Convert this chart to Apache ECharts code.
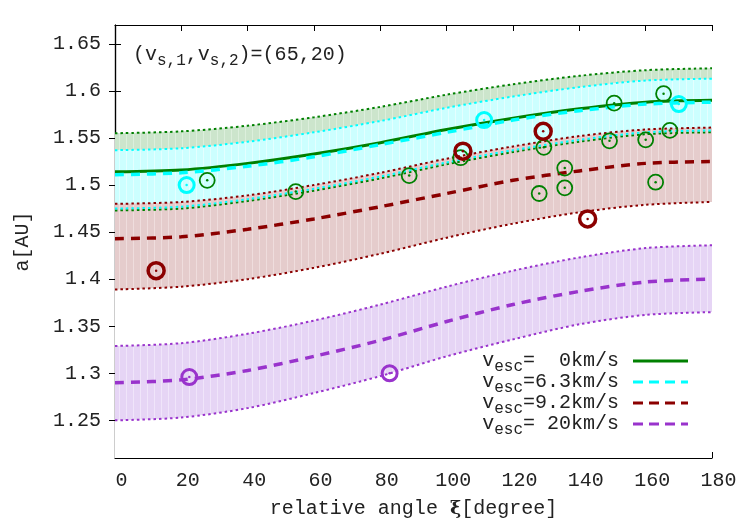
<!DOCTYPE html>
<html>
<head>
<meta charset="utf-8">
<script src="https://cdn.jsdelivr.net/npm/echarts@6/dist/echarts.min.js"></script>
<style>
  html, body { margin: 0; padding: 0; background: #fff; }
  #main { width: 750px; height: 525px; }
</style>
</head>
<body>
<div id="main"></div>
<script>
// 相对角度 (degree)
var xi = [0, 20, 40, 60, 80, 100, 120, 140, 160, 180];

// v_esc = 0 km/s
var g_mid = [1.514, 1.516, 1.523, 1.533, 1.545, 1.559, 1.571, 1.581, 1.588, 1.590];
var g_up  = [1.555, 1.557, 1.563, 1.572, 1.583, 1.596, 1.607, 1.616, 1.622, 1.624];
var g_lo  = [1.473, 1.475, 1.483, 1.494, 1.507, 1.522, 1.535, 1.546, 1.554, 1.556];
// v_esc = 6.3 km/s
var c_mid = [1.511, 1.513, 1.520, 1.530, 1.543, 1.556, 1.569, 1.579, 1.586, 1.588];
var c_up  = [1.537, 1.539, 1.546, 1.556, 1.568, 1.582, 1.594, 1.604, 1.611, 1.613];
var c_lo  = [1.475, 1.477, 1.485, 1.496, 1.509, 1.524, 1.537, 1.548, 1.556, 1.558];
// v_esc = 9.2 km/s
var r_mid = [1.443, 1.445, 1.453, 1.464, 1.477, 1.491, 1.505, 1.515, 1.523, 1.525];
var r_up  = [1.480, 1.482, 1.489, 1.500, 1.513, 1.528, 1.541, 1.552, 1.559, 1.561];
var r_lo  = [1.389, 1.392, 1.400, 1.412, 1.427, 1.444, 1.459, 1.471, 1.479, 1.482];
// v_esc = 20 km/s
var p_mid = [1.290, 1.293, 1.303, 1.318, 1.335, 1.355, 1.373, 1.387, 1.397, 1.400];
var p_up  = [1.329, 1.332, 1.342, 1.356, 1.373, 1.392, 1.409, 1.423, 1.433, 1.436];
var p_lo  = [1.250, 1.253, 1.263, 1.279, 1.297, 1.318, 1.336, 1.352, 1.362, 1.365];

// observed points [xi, a]
var pts_green = [[27.8, 1.505], [54.5, 1.493], [88.7, 1.510], [104.2, 1.529], [129.3, 1.540],
  [127.9, 1.491], [135.6, 1.518], [135.6, 1.497], [150.5, 1.587], [149.1, 1.547],
  [160.0, 1.548], [165.4, 1.597], [167.3, 1.558], [163.0, 1.503]];
var pts_cyan = [[21.6, 1.500], [111.3, 1.569], [170.0, 1.586]];
var pts_red = [[12.4, 1.409], [104.9, 1.536], [129.1, 1.557], [142.5, 1.464]];
var pts_purple = [[22.4, 1.296], [82.8, 1.300]];

var yTicks = [1.25, 1.3, 1.35, 1.4, 1.45, 1.5, 1.55, 1.6, 1.65];

var FONT = 'Liberation Mono';
var TXT = '#222';
var GREEN = '#008000', CYAN = '#00ffff', RED = '#8b0000', PURPLE = '#9933cc';

function pairs(arr) { return xi.map(function (x, i) { return [x, arr[i]]; }); }

// gnuplot 风格的竖条纹填充
function stripes(base, light) {
  var cv = document.createElement('canvas');
  cv.width = 7; cv.height = 8;
  var ctx = cv.getContext('2d');
  ctx.fillStyle = base; ctx.fillRect(0, 0, 7, 8);
  ctx.fillStyle = light; ctx.fillRect(0, 0, 1, 8);
  return { image: cv, repeat: 'repeat' };
}

// 带状区域: 上沿向下填色, 下沿向下填白色
function band(key, up, lo, fill) {
  return [
    { name: key + '_top', type: 'line', data: pairs(up), smooth: 0.3, symbol: 'none',
      lineStyle: { width: 0, opacity: 0 }, areaStyle: { color: fill, opacity: 1, origin: 'start' },
      silent: true, z: 1 },
    { name: key + '_bot', type: 'line', data: pairs(lo), smooth: 0.3, symbol: 'none',
      lineStyle: { width: 0, opacity: 0 }, areaStyle: { color: '#fff', opacity: 1, origin: 'start' },
      silent: true, z: 1 }
  ];
}

function dotted(name, arr, color) {
  return { name: name, type: 'line', data: pairs(arr), smooth: 0.3, symbol: 'none', z: 2,
    lineStyle: { color: color, width: 2, type: [2.5, 3] }, silent: true };
}

function ring(name, data, color, size, bw) {
  return [
    { name: name, type: 'scatter', data: data, symbol: 'circle', symbolSize: size, z: 5,
      itemStyle: { color: 'rgba(0,0,0,0)', borderColor: color, borderWidth: bw, opacity: 1 } },
    { name: name + '_dot', type: 'scatter', data: data, symbol: 'circle', symbolSize: 2.5, z: 5,
      itemStyle: { color: color, opacity: 1 } }
  ];
}

var legendText = {
  v0:  '{v|v}{s|esc}{v|=  0km/s}',
  v63: '{v|v}{s|esc}{v|=6.3km/s}',
  v92: '{v|v}{s|esc}{v|=9.2km/s}',
  v20: '{v|v}{s|esc}{v|= 20km/s}'
};
var solidIcon = 'path://M0,0H55V3H0Z';
var dashIcon = 'path://M0,0H10V3H0Z M16,0H26V3H16Z M32,0H42V3H32Z M48,0H55V3H48Z';

var series = [].concat(
  band('gb', g_up, g_lo, stripes('#cce5cc', '#dcefdc')),
  band('cb', c_up, c_lo, stripes('#ccffff', '#e4ffff')),
  band('rb', r_up, r_lo, stripes('#e5cccc', '#efdddd')),
  band('pb', p_up, p_lo, stripes('#e6d5f5', '#f0e5fa')),
  [
    dotted('g_up', g_up, GREEN), dotted('g_lo', g_lo, GREEN),
    dotted('c_up', c_up, CYAN), dotted('c_lo', c_lo, CYAN),
    dotted('r_up', r_up, RED), dotted('r_lo', r_lo, RED),
    dotted('p_up', p_up, PURPLE), dotted('p_lo', p_lo, PURPLE),
    { name: 'v0', type: 'line', data: pairs(g_mid), smooth: 0.3, symbol: 'none', z: 3,
      lineStyle: { color: GREEN, width: 3 }, itemStyle: { color: GREEN } },
    { name: 'v63', type: 'line', data: pairs(c_mid), smooth: 0.3, symbol: 'none', z: 3,
      lineStyle: { color: CYAN, width: 3.5, type: [9, 7] }, itemStyle: { color: CYAN } },
    { name: 'v92', type: 'line', data: pairs(r_mid), smooth: 0.3, symbol: 'none', z: 3,
      lineStyle: { color: RED, width: 3.5, type: [9, 7] }, itemStyle: { color: RED } },
    { name: 'v20', type: 'line', data: pairs(p_mid), smooth: 0.3, symbol: 'none', z: 3,
      lineStyle: { color: PURPLE, width: 3.5, type: [9, 7] }, itemStyle: { color: PURPLE } }
  ],
  ring('pg', pts_green, GREEN, 15, 1.8),
  ring('pc', pts_cyan, CYAN, 15, 3),
  ring('pr', pts_red, RED, 16, 3.5),
  ring('pp', pts_purple, PURPLE, 15, 3)
);

var myChart = echarts.init(document.getElementById('main'), null, { renderer: 'canvas' });

var option = {
  animation: false,
  backgroundColor: '#fff',
  title: {
    text: '{m|(v}{s|s,1}{m|,v}{s|s,2}{m|)=(65,20)}',
    left: 128, top: 36,
    textStyle: {
      fontWeight: 'normal',
      rich: {
        m: { fontFamily: FONT, fontSize: 20, fontWeight: 'normal', color: TXT },
        s: { fontFamily: FONT, fontSize: 16, fontWeight: 'normal', color: TXT, padding: [12, 0, 0, 0] }
      }
    }
  },
  legend: {
    data: [
      { name: 'v0', icon: solidIcon },
      { name: 'v63', icon: dashIcon },
      { name: 'v92', icon: dashIcon },
      { name: 'v20', icon: dashIcon }
    ],
    orient: 'vertical',
    right: 57, top: 346,
    align: 'right',
    itemWidth: 55, itemHeight: 3,
    itemGap: -3,
    selectedMode: false,
    formatter: function (name) { return legendText[name]; },
    textStyle: {
      padding: [0, 9, 0, 0],
      rich: {
        v: { fontFamily: FONT, fontSize: 20, color: TXT },
        s: { fontFamily: FONT, fontSize: 16, color: TXT, padding: [12, 0, 0, 0] }
      }
    }
  },
  grid: { left: 115, right: 38, top: 25, bottom: 67 },
  xAxis: [
    {
      type: 'value', min: 0, max: 180, interval: 20,
      name: '{n|relative angle }{b|ξ}{n|[degree]}',
      nameLocation: 'middle', nameGap: 41,
      nameTextStyle: {
        rich: {
          n: { fontFamily: FONT, fontSize: 20, color: TXT },
          b: { fontFamily: 'DejaVu Serif', fontSize: 19, fontWeight: 'bold', color: TXT }
        }
      },
      axisLine: { show: true, lineStyle: { color: '#000', width: 1.2 } },
      axisTick: { inside: true, length: 6, lineStyle: { color: '#000' } },
      axisLabel: { fontFamily: FONT, fontSize: 20, color: TXT, margin: 13, padding: [0, 0, 0, 13] },
      splitLine: { show: false }
    },
    {
      type: 'value', min: 0, max: 180, interval: 20, position: 'top',
      axisLine: { show: true, lineStyle: { color: '#000', width: 1.2 } },
      axisTick: { inside: true, length: 6, lineStyle: { color: '#000' } },
      axisLabel: { show: false },
      splitLine: { show: false }
    }
  ],
  yAxis: [
    {
      type: 'value', min: 1.21, max: 1.67,
      name: 'a[AU]', nameLocation: 'middle', nameGap: 82, nameRotate: 90,
      nameTextStyle: { fontFamily: FONT, fontSize: 20, color: TXT },
      axisLine: { show: true, lineStyle: { color: '#000', width: 1.2 } },
      axisTick: { inside: true, length: 6, lineStyle: { color: '#000' }, customValues: yTicks },
      axisLabel: {
        fontFamily: FONT, fontSize: 20, color: TXT, margin: 14, customValues: yTicks,
        formatter: function (v) { return String(+v.toFixed(2)); }
      },
      splitLine: { show: false }
    },
    {
      type: 'value', min: 1.21, max: 1.67, position: 'right',
      axisLine: { show: true, lineStyle: { color: '#000', width: 1.2 } },
      axisTick: { inside: true, length: 6, lineStyle: { color: '#000' }, customValues: yTicks },
      axisLabel: { show: false, customValues: yTicks },
      splitLine: { show: false }
    }
  ],
  series: series
};

myChart.setOption(option);
</script>
</body>
</html>
